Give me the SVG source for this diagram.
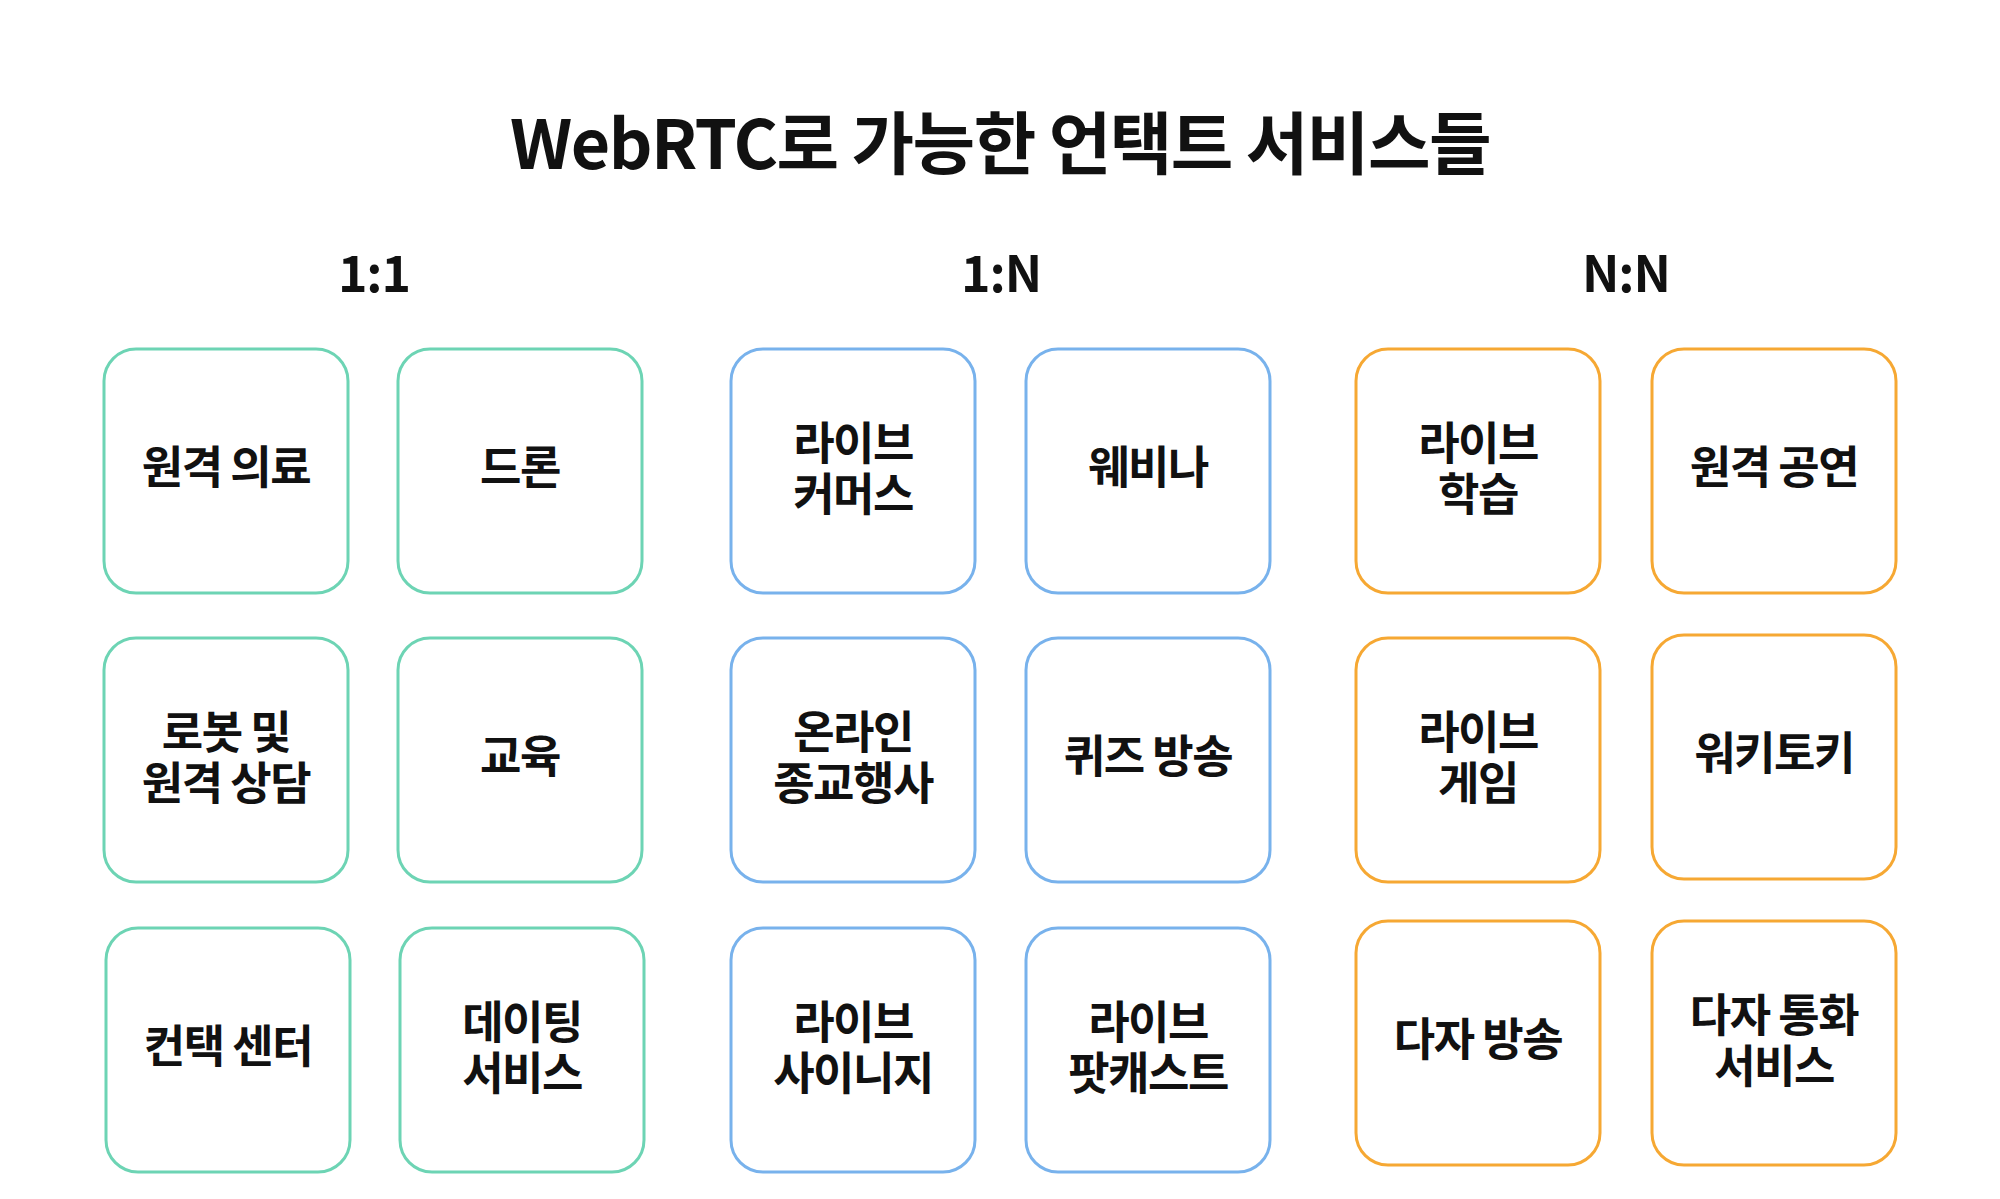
<svg xmlns="http://www.w3.org/2000/svg" width="2000" height="1199" viewBox="0 0 2000 1199">
<style>
text{font-family:"Noto Sans CJK KR","Noto Sans",sans-serif;font-weight:700;fill:#111111;text-anchor:middle}
.title{font-size:68px;letter-spacing:-1.5px}
.head{font-size:50px;letter-spacing:-1px}
.lbl{font-size:45px;letter-spacing:-1.5px}
rect{fill:#ffffff;stroke-width:3;rx:32px;ry:32px}
.g rect{stroke:#6dd4b4}
.b rect{stroke:#78b2ec}
.o rect{stroke:#f6a833}
</style>
<rect x="0" y="0" width="2000" height="1199" style="fill:#ffffff;stroke:none"/>
<text class="title" x="1000" y="169">WebRTC로 가능한 언택트 서비스들</text>
<g id="headers">
<text class="head" x="374" y="292">1:1</text>
<text class="head" x="1001" y="292">1:N</text>
<text class="head" x="1626" y="292">N:N</text>
</g>
<g id="connectors"></g>
<g class="g">
<g id="n-remote-medical"><rect x="104" y="349" width="244" height="244"/><text class="lbl" x="226" y="484">원격 의료</text></g>
<g id="n-drone"><rect x="398" y="349" width="244" height="244"/><text class="lbl" x="520" y="484">드론</text></g>
<g id="n-robot"><rect x="104" y="638" width="244" height="244"/><text class="lbl" x="226" y="749">로봇 및<tspan x="226" dy="51">원격 상담</tspan></text></g>
<g id="n-education"><rect x="398" y="638" width="244" height="244"/><text class="lbl" x="520" y="773">교육</text></g>
<g id="n-contact"><rect x="106" y="928" width="244" height="244"/><text class="lbl" x="228" y="1063">컨택 센터</text></g>
<g id="n-dating"><rect x="400" y="928" width="244" height="244"/><text class="lbl" x="522" y="1039">데이팅<tspan x="522" dy="51">서비스</tspan></text></g>
</g>
<g class="b">
<g id="n-live-commerce"><rect x="731" y="349" width="244" height="244"/><text class="lbl" x="853" y="460">라이브<tspan x="853" dy="51">커머스</tspan></text></g>
<g id="n-webinar"><rect x="1026" y="349" width="244" height="244"/><text class="lbl" x="1148" y="484">웨비나</text></g>
<g id="n-religion"><rect x="731" y="638" width="244" height="244"/><text class="lbl" x="853" y="749">온라인<tspan x="853" dy="51">종교행사</tspan></text></g>
<g id="n-quiz"><rect x="1026" y="638" width="244" height="244"/><text class="lbl" x="1148" y="773">퀴즈 방송</text></g>
<g id="n-signage"><rect x="731" y="928" width="244" height="244"/><text class="lbl" x="853" y="1039">라이브<tspan x="853" dy="51">사이니지</tspan></text></g>
<g id="n-podcast"><rect x="1026" y="928" width="244" height="244"/><text class="lbl" x="1148" y="1039">라이브<tspan x="1148" dy="51">팟캐스트</tspan></text></g>
</g>
<g class="o">
<g id="n-live-learning"><rect x="1356" y="349" width="244" height="244"/><text class="lbl" x="1478" y="460">라이브<tspan x="1478" dy="51">학습</tspan></text></g>
<g id="n-remote-show"><rect x="1652" y="349" width="244" height="244"/><text class="lbl" x="1774" y="484">원격 공연</text></g>
<g id="n-live-game"><rect x="1356" y="638" width="244" height="244"/><text class="lbl" x="1478" y="749">라이브<tspan x="1478" dy="51">게임</tspan></text></g>
<g id="n-walkie"><rect x="1652" y="635" width="244" height="244"/><text class="lbl" x="1774" y="770">워키토키</text></g>
<g id="n-multi-broadcast"><rect x="1356" y="921" width="244" height="244"/><text class="lbl" x="1478" y="1056">다자 방송</text></g>
<g id="n-multi-call"><rect x="1652" y="921" width="244" height="244"/><text class="lbl" x="1774" y="1032">다자 통화<tspan x="1774" dy="51">서비스</tspan></text></g>
</g>
</svg>
